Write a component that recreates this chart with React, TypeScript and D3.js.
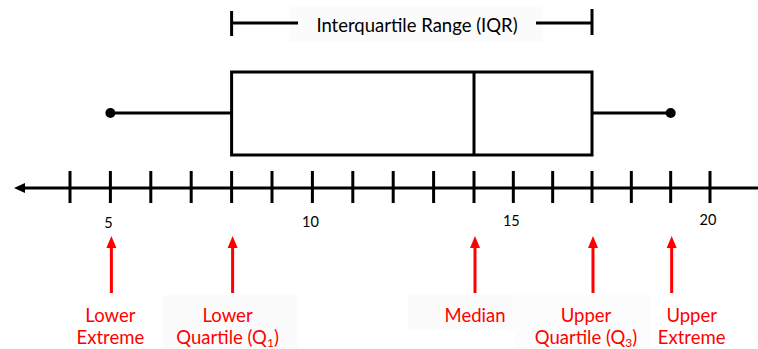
import React from "react";
import * as d3 from "d3";

const tickValues = [4, 5, 6, 7, 8, 9, 10, 11, 12, 13, 14, 15, 16, 17, 18, 19, 20];
const tickLabels = [5, 10, 15, 20];
const statNames = ["Lower Extreme", "Lower Quartile", "Median", "Upper Quartile", "Upper Extreme"];
const statValues = [5, 8, 14, 17, 19];
const labelLines: string[][] = [
  ["Lower", "Extreme"],
  ["Lower", "Quartile (Q|1|)"],
  ["Median"],
  ["Upper", "Quartile (Q|3|)"],
  ["Upper", "Extreme"],
];
const iqrTitle = "Interquartile Range (IQR)";

const W = 758;
const H = 349;
const FONT = "Lato, 'Open Sans', 'DejaVu Sans', sans-serif";
const RED = "#ff0000";

export default function App() {
  // the hand-drawn number line is slightly uneven: tick 14 sits a little right
  const x = d3.scaleLinear().domain([4, 14, 20]).range([70, 474, 710]);
  const [minV, q1, med, q3, maxV] = statValues;

  const axisY = 188;
  const boxTop = 72;
  const boxBot = 155;
  const whiskerY = 113;
  const iqrY = 23;
  const labelDx = [-1, -5, 0, -7, 20];

  const renderLine = (s: string, key: number, xPos: number, y: number) => {
    const parts = s.split("|");
    return (
      <text key={key} x={xPos} y={y} textAnchor="middle" fontFamily={FONT} fontSize={18.5} fill={RED}>
        {parts.map((p, i) =>
          i % 2 === 1 ? (
            <tspan key={i} fontSize={12} dy={3}>{p}</tspan>
          ) : i > 0 ? (
            <tspan key={i} dy={-3}>{p}</tspan>
          ) : (
            <tspan key={i}>{p}</tspan>
          )
        )}
      </text>
    );
  };

  return (
    <svg
      width={W}
      height={H}
      style={{ position: "absolute", left: 0, top: 0, background: "#fff" }}
    >
      {/* faint backgrounds */}
      <rect x={290} y={7} width={253} height={35} fill="#fbfbfb" />
      <rect x={163} y={295} width={135} height={54} fill="#fbfbfb" />
      <rect x={408} y={295} width={107} height={35} fill="#fbfbfb" />
      <rect x={515} y={295} width={136} height={54} fill="#fcfcfc" />

      {/* IQR bracket */}
      <g stroke="#000" strokeWidth={3}>
        <line x1={x(q1)} x2={x(q1)} y1={11} y2={36} />
        <line x1={x(q3)} x2={x(q3)} y1={9} y2={35} />
        <line x1={x(q1)} x2={298} y1={iqrY} y2={iqrY} />
        <line x1={536} x2={x(q3)} y1={iqrY} y2={iqrY} />
      </g>
      <text x={417} y={32} textAnchor="middle" fontFamily={FONT} fontSize={18.5} fill="#000">
        {iqrTitle}
      </text>

      {/* whiskers */}
      <g stroke="#000" strokeWidth={3}>
        <line x1={x(minV)} x2={x(q1)} y1={whiskerY} y2={whiskerY} />
        <line x1={x(q3)} x2={x(maxV)} y1={whiskerY} y2={whiskerY} />
      </g>
      <circle cx={x(minV)} cy={whiskerY} r={5} fill="#000" />
      <circle cx={x(maxV)} cy={whiskerY} r={5} fill="#000" />

      {/* box */}
      <rect
        x={x(q1)}
        y={boxTop}
        width={x(q3) - x(q1)}
        height={boxBot - boxTop}
        fill="#fff"
        stroke="#000"
        strokeWidth={3}
      />
      <line x1={x(med)} x2={x(med)} y1={boxTop} y2={boxBot} stroke="#000" strokeWidth={3} />

      {/* axis */}
      <line x1={22} x2={W} y1={axisY} y2={axisY} stroke="#000" strokeWidth={3} />
      <path d={`M14,${axisY} L25,${axisY - 5} L25,${axisY + 5} Z`} fill="#000" />
      {tickValues.map((v) => (
        <line key={v} x1={x(v)} x2={x(v)} y1={171} y2={203} stroke="#000" strokeWidth={3} />
      ))}
      {tickLabels.map((v, i) => (
        <text key={v} x={x(v) - 2} y={228 - i} textAnchor="middle" fontFamily={FONT} fontSize={14.5} fill="#000">
          {v}
        </text>
      ))}

      {/* red arrows and labels */}
      {statValues.map((v, i) => {
        const cx = x(v) + 1;
        return (
          <g key={statNames[i]}>
            <line x1={cx} x2={cx} y1={246} y2={293} stroke={RED} strokeWidth={3} />
            <path d={`M${cx},236 L${cx - 5},248 L${cx + 5},248 Z`} fill={RED} />
            {labelLines[i].map((s, j) => renderLine(s, j, cx + labelDx[i], 322 + j * 22))}
          </g>
        );
      })}
    </svg>
  );
}
